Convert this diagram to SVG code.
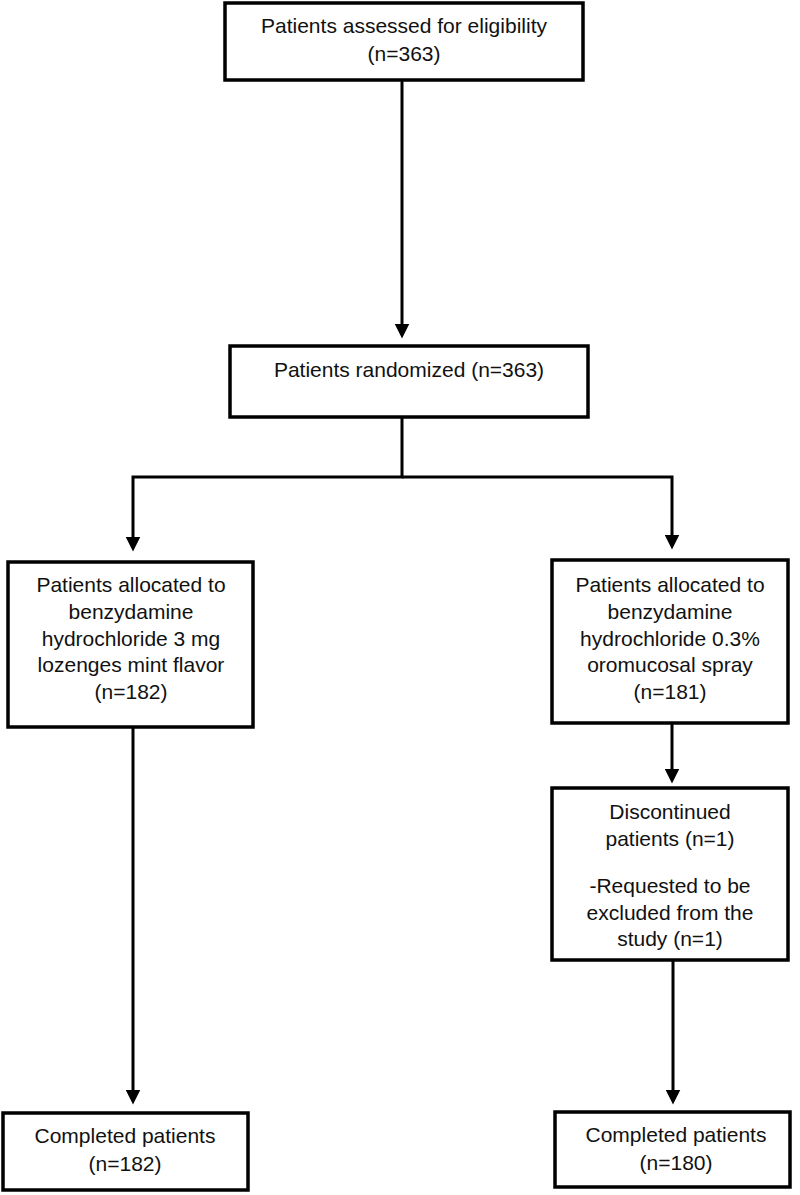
<svg xmlns="http://www.w3.org/2000/svg" width="800" height="1195" viewBox="0 0 800 1195">
<style>
.box{fill:#fff;stroke:#000;stroke-width:3.5}
.t{font-family:"Liberation Sans",Arial,sans-serif;font-size:21px;fill:#111;text-anchor:middle}
.c{fill:none;stroke:#000;stroke-width:3}
</style>
<defs>
<marker id="ah" markerWidth="5" markerHeight="5" refX="0.5" refY="2.5" orient="auto" markerUnits="strokeWidth" viewBox="0 0 5 5">
<path d="M0,0 L5,2.5 L0,5 Z" fill="#000"/>
</marker>
</defs>
<rect width="800" height="1195" fill="#fff"/>
<g id="connectors">
<line class="c" x1="402" y1="80" x2="402" y2="325" marker-end="url(#ah)"/>
<polyline class="c" points="402,417 402,477 133,477 133,538" marker-end="url(#ah)"/>
<polyline class="c" points="402,477 672,477 672,536" marker-end="url(#ah)"/>
<line class="c" x1="672" y1="723" x2="672" y2="770" marker-end="url(#ah)"/>
<line class="c" x1="133" y1="727" x2="133" y2="1091" marker-end="url(#ah)"/>
<line class="c" x1="673" y1="960" x2="673" y2="1091" marker-end="url(#ah)"/>
</g>
<g id="n1">
<rect class="box" x="225" y="3" width="358" height="77"/>
<text class="t" x="404" y="33">Patients assessed for eligibility</text>
<text class="t" x="404" y="61">(n=363)</text>
</g>
<g id="n2">
<rect class="box" x="230" y="346" width="358" height="71"/>
<text class="t" x="409" y="377">Patients randomized (n=363)</text>
</g>
<g id="n3">
<rect class="box" x="8" y="562" width="245" height="165"/>
<text class="t" x="131" y="592">Patients allocated to</text>
<text class="t" x="131" y="619">benzydamine</text>
<text class="t" x="131" y="646">hydrochloride 3 mg</text>
<text class="t" x="131" y="672">lozenges mint flavor</text>
<text class="t" x="131" y="699">(n=182)</text>
</g>
<g id="n4">
<rect class="box" x="552" y="560" width="236" height="163"/>
<text class="t" x="670" y="592">Patients allocated to</text>
<text class="t" x="670" y="619">benzydamine</text>
<text class="t" x="670" y="646">hydrochloride 0.3%</text>
<text class="t" x="670" y="672">oromucosal spray</text>
<text class="t" x="670" y="699">(n=181)</text>
</g>
<g id="n5">
<rect class="box" x="552" y="788" width="236" height="172"/>
<text class="t" x="670" y="819">Discontinued</text>
<text class="t" x="670" y="846">patients (n=1)</text>
<text class="t" x="670" y="893">-Requested to be</text>
<text class="t" x="670" y="920">excluded from the</text>
<text class="t" x="670" y="946">study (n=1)</text>
</g>
<g id="n6">
<rect class="box" x="3" y="1113" width="245" height="77"/>
<text class="t" x="125" y="1143">Completed patients</text>
<text class="t" x="125" y="1171">(n=182)</text>
</g>
<g id="n7">
<rect class="box" x="555" y="1112" width="235" height="75"/>
<text class="t" x="676" y="1142">Completed patients</text>
<text class="t" x="676" y="1170">(n=180)</text>
</g>
</svg>
